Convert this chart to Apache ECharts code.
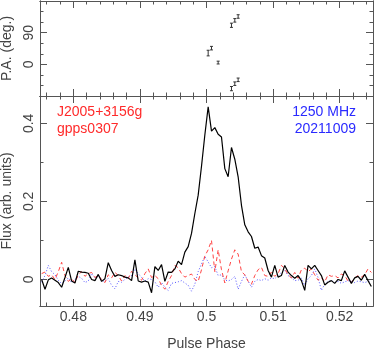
<!DOCTYPE html>
<html>
<head>
<meta charset="utf-8">
<script src="https://cdn.jsdelivr.net/npm/echarts@6/dist/echarts.min.js"></script>
<style>
html, body { margin: 0; padding: 0; background: #fff; }
#myChart { width: 374px; height: 349px; }
</style>
</head>
<body>
<div id="myChart"></div>
<script>
// 相位 bin: 0.475 - 0.525, 100 bins
var binStart = 0.475;
var binWidth = 0.0005;

// 总强度 I
var fluxI = [
    0.000, -0.025, -0.001, 0.004, -0.002, -0.008, -0.020, 0.005, 0.031, -0.004,
    -0.009, 0.021, 0.019, 0.018, 0.016, 0.000, -0.003, 0.013, -0.005, 0.002,
    0.043, 0.023, 0.008, 0.012, 0.010, 0.006, 0.004, -0.003, 0.050, -0.004,
    -0.007, -0.004, -0.007, -0.034, 0.033, 0.023, 0.038, -0.005, 0.019, 0.018,
    0.027, 0.047, 0.038, 0.070, 0.084, 0.118, 0.169, 0.216, 0.290, 0.370,
    0.442, 0.380, 0.389, 0.372, 0.365, 0.284, 0.263, 0.338, 0.308, 0.263,
    0.190, 0.140, 0.122, 0.110, 0.080, 0.083, 0.061, 0.055, 0.023, 0.006,
    0.036, 0.006, 0.010, 0.036, 0.019, 0.010, 0.003, 0.010, -0.003, -0.028,
    0.036, 0.027, 0.036, 0.023, 0.010, -0.014, -0.007, -0.003, -0.010, 0.000,
    -0.003, 0.022, 0.006, -0.010, 0.004, 0.008, -0.002, 0.013, -0.003, -0.018
];
// 线偏振 L
var fluxL = [
    0.015, 0.019, 0.008, 0.012, 0.000, 0.020, 0.044, 0.010, -0.005, 0.002,
    -0.008, 0.012, 0.020, 0.008, 0.015, 0.018, 0.005, 0.010, 0.000, -0.008,
    0.012, 0.004, 0.018, 0.010, -0.004, 0.010, 0.002, 0.021, 0.012, 0.004,
    -0.002, 0.015, 0.027, 0.005, 0.010, 0.002, -0.015, -0.025, -0.005, 0.010,
    0.036, 0.030, 0.015, 0.006, 0.010, 0.014, 0.000, -0.005, 0.025, 0.060,
    0.076, 0.100, 0.020, 0.076, 0.025, -0.009, 0.022, 0.052, 0.076, 0.065,
    0.020, 0.012, -0.005, -0.012, 0.010, 0.025, 0.031, 0.010, 0.008, 0.019,
    0.008, 0.015, 0.036, 0.028, 0.012, 0.004, 0.018, 0.003, 0.025, 0.029,
    0.020, 0.027, 0.012, -0.002, 0.005, -0.006, 0.012, 0.008, 0.010, 0.004,
    0.014, 0.010, -0.004, -0.008, 0.004, 0.010, 0.006, 0.012, 0.027, 0.018
];
// 圆偏振 V
var fluxV = [
    -0.007, 0.010, 0.036, 0.020, 0.012, -0.002, -0.011, -0.004, 0.004, -0.008,
    0.000, 0.008, 0.003, -0.008, -0.004, 0.015, 0.005, 0.010, -0.003, -0.005,
    0.002, -0.015, -0.024, -0.005, -0.007, 0.000, 0.006, 0.010, 0.027, 0.015,
    0.005, -0.004, 0.002, 0.000, -0.006, -0.020, -0.008, -0.020, -0.028, -0.010,
    -0.008, -0.006, -0.003, -0.009, -0.015, -0.030, -0.012, 0.020, 0.040, 0.059,
    0.045, 0.030, 0.033, 0.010, 0.012, -0.001, -0.004, 0.000, 0.008, -0.025,
    -0.005, 0.012, -0.004, -0.020, -0.005, 0.000, -0.003, 0.002, -0.002, 0.004,
    0.002, 0.010, 0.018, 0.023, 0.010, 0.004, -0.003, -0.002, 0.003, -0.015,
    0.002, 0.010, 0.027, 0.005, -0.028, -0.012, -0.005, -0.003, -0.008, -0.005,
    -0.010, -0.006, -0.003, -0.005, -0.008, -0.004, -0.006, -0.008, -0.005, -0.004
];

// 偏振角 P.A.
var paPhase = [0.50025, 0.50075, 0.50175, 0.50375, 0.50425, 0.50475, 0.50375, 0.50425, 0.50475];
var paDeg   = [32, 46, 5, 111, 125, 136, -69, -55, -44];
var paErr   = [8, 5, 4, 6, 5, 5, 6, 5, 5];

// 刻度
var phaseTicks = [0.48, 0.49, 0.5, 0.51, 0.52];
var phaseMinorTicks = [0.476, 0.478, 0.482, 0.484, 0.486, 0.488, 0.492, 0.494, 0.496, 0.498,
    0.502, 0.504, 0.506, 0.508, 0.512, 0.514, 0.516, 0.518, 0.522, 0.524];
var fluxTicks = [0, 0.2, 0.4];
var fluxMinorTicks = [0.1, 0.3];
var paTicks = [0, 90];
var paMinorTicks = [-60, -30, 30, 60, 120, 150];

var frameColor = '#555';
var textColor = '#444';
var fontFamily = 'Liberation Sans, Arial, sans-serif';

function makeAxis(grid, pos, min, max, ticks, len, label, rotate) {
    return {
        type: 'value',
        gridIndex: grid,
        position: pos,
        min: min,
        max: max,
        axisLine: { show: true, onZero: false, lineStyle: { color: frameColor, width: 1 } },
        axisTick: { show: true, inside: true, length: len, customValues: ticks,
            lineStyle: { color: frameColor, width: 1 } },
        axisLabel: { show: !!label, customValues: ticks, rotate: rotate || 0, margin: 4,
            color: textColor, fontSize: 14, fontFamily: fontFamily },
        splitLine: { show: false },
        minorTick: { show: false }
    };
}

function phaseAxes(grid, showLabel) {
    var ax = [
        makeAxis(grid, 'bottom', 0.475, 0.525, phaseTicks, 7, showLabel),
        makeAxis(grid, 'bottom', 0.475, 0.525, phaseMinorTicks, 3.5),
        makeAxis(grid, 'top', 0.475, 0.525, phaseTicks, 7),
        makeAxis(grid, 'top', 0.475, 0.525, phaseMinorTicks, 3.5)
    ];
    if (showLabel) {
        ax[0].name = 'Pulse Phase';
        ax[0].nameLocation = 'middle';
        ax[0].nameGap = 31;
        ax[0].nameTextStyle = { color: textColor, fontSize: 14, fontFamily: fontFamily };
    }
    return ax;
}

function valueAxes(grid, min, max, ticks, minor, name) {
    var ax = [
        makeAxis(grid, 'left', min, max, ticks, 7, true, 90),
        makeAxis(grid, 'left', min, max, minor, 3.5),
        makeAxis(grid, 'right', min, max, ticks, 7),
        makeAxis(grid, 'right', min, max, minor, 3.5)
    ];
    ax[0].name = name;
    ax[0].nameLocation = 'middle';
    ax[0].nameGap = 25;
    ax[0].nameRotate = 90;
    ax[0].nameTextStyle = { color: textColor, fontSize: 14, fontFamily: fontFamily };
    return ax;
}

function toSeriesData(values) {
    var out = [];
    for (var i = 0; i < values.length; i++) {
        out.push([binStart + (i + 0.5) * binWidth, values[i]]);
    }
    return out;
}

var paData = [];
for (var k = 0; k < paPhase.length; k++) {
    paData.push([paPhase[k], paDeg[k], paErr[k]]);
}

function renderErrBar(params, api) {
    var x = api.value(0), y = api.value(1), e = api.value(2);
    var hi = api.coord([x, y + e]);
    var lo = api.coord([x, y - e]);
    var c = 1.5;
    var st = { stroke: '#333', lineWidth: 1 };
    return {
        type: 'group',
        children: [
            { type: 'line', shape: { x1: hi[0], y1: hi[1], x2: lo[0], y2: lo[1] }, style: st },
            { type: 'line', shape: { x1: hi[0] - c, y1: hi[1], x2: hi[0] + c, y2: hi[1] }, style: st },
            { type: 'line', shape: { x1: lo[0] - c, y1: lo[1], x2: lo[0] + c, y2: lo[1] }, style: st }
        ]
    };
}

var myChart = echarts.init(document.getElementById('myChart'), null, { renderer: 'canvas' });

var option = {
    backgroundColor: '#fff',
    animation: false,
    grid: [
        { left: 40, right: 1, top: 1, height: 95, containLabel: false, outerBoundsMode: 'none' },
        { left: 40, right: 1, top: 96, height: 210, containLabel: false, outerBoundsMode: 'none' }
    ],
    xAxis: phaseAxes(0, false).concat(phaseAxes(1, true)),
    yAxis: valueAxes(0, -90, 180, paTicks, paMinorTicks, 'P.A. (deg.)')
        .concat(valueAxes(1, -0.068, 0.47, fluxTicks, fluxMinorTicks, 'Flux (arb. units)')),
    series: [
        {
            type: 'custom', xAxisIndex: 0, yAxisIndex: 0,
            renderItem: renderErrBar, data: paData, clip: true
        },
        {
            name: 'V', type: 'line', xAxisIndex: 4, yAxisIndex: 4,
            data: toSeriesData(fluxV), symbol: 'none', clip: true,
            lineStyle: { color: '#5555ff', width: 1, type: [1, 2] }
        },
        {
            name: 'L', type: 'line', xAxisIndex: 4, yAxisIndex: 4,
            data: toSeriesData(fluxL), symbol: 'none', clip: true,
            lineStyle: { color: '#ff4444', width: 1, type: [4, 3] }
        },
        {
            name: 'I', type: 'line', xAxisIndex: 4, yAxisIndex: 4,
            data: toSeriesData(fluxI), symbol: 'none', clip: true,
            lineStyle: { color: '#000', width: 1.2 }
        }
    ],
    graphic: [
        { type: 'text', left: 57, top: 105, style: { text: 'J2005+3156g', fill: '#ff2a2a', font: '14px ' + fontFamily } },
        { type: 'text', left: 57, top: 122, style: { text: 'gpps0307', fill: '#ff2a2a', font: '14px ' + fontFamily } },
        { type: 'text', right: 18, top: 105, style: { text: '1250 MHz', fill: '#2a2aff', font: '14px ' + fontFamily } },
        { type: 'text', right: 18, top: 122, style: { text: '20211009', fill: '#2a2aff', font: '14px ' + fontFamily } }
    ]
};

myChart.setOption(option);
</script>
</body>
</html>
